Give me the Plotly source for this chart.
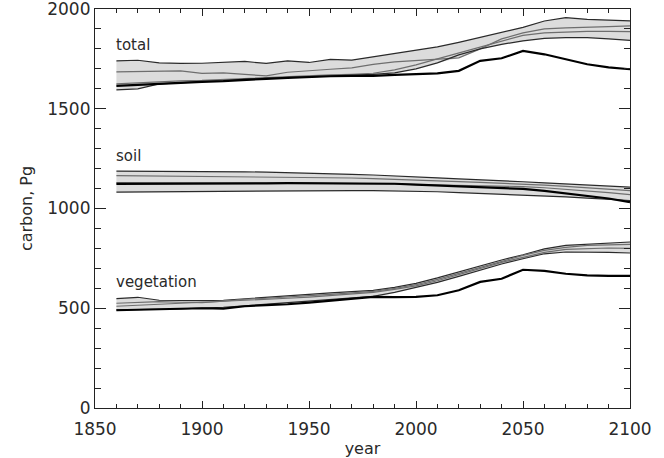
import numpy as np
import plotly.graph_objects as go

years = list(range(1860, 2101, 10))

# total carbon, ensemble members
total_m1 = [1740, 1743, 1730, 1727, 1728, 1733, 1737, 1727, 1740, 1732, 1747, 1744, 1760,
            1775, 1792, 1810, 1833, 1857, 1883, 1908, 1940, 1957, 1948, 1944, 1940]
total_m2 = [1685, 1687, 1689, 1690, 1677, 1680, 1672, 1665, 1683, 1692, 1698, 1705, 1722,
            1735, 1742, 1748, 1755, 1800, 1850, 1880, 1900, 1905, 1910, 1912, 1915]
total_m3 = [1625, 1630, 1637, 1640, 1642, 1647, 1652, 1656, 1660, 1665, 1670, 1673, 1678,
            1695, 1720, 1750, 1780, 1810, 1840, 1868, 1880, 1885, 1888, 1888, 1887]
total_m4 = [1595, 1600, 1625, 1632, 1636, 1640, 1648, 1652, 1656, 1662, 1665, 1668, 1672,
            1680, 1700, 1730, 1770, 1800, 1823, 1840, 1853, 1857, 1857, 1850, 1843]
total_ctl = [1615, 1620, 1628, 1632, 1635, 1638, 1645, 1650, 1655, 1660, 1663, 1665, 1665,
             1670, 1673, 1677, 1690, 1740, 1753, 1790, 1773, 1748, 1723, 1707, 1698]

# soil carbon
soil_m1 = [1187, 1187, 1186, 1186, 1185, 1184, 1184, 1182, 1180, 1177, 1174, 1171, 1168,
           1164, 1158, 1154, 1148, 1144, 1138, 1134, 1128, 1122, 1118, 1112, 1107]
soil_m2 = [1165, 1164, 1164, 1163, 1163, 1162, 1161, 1160, 1158, 1157, 1155, 1153, 1150,
           1147, 1143, 1139, 1135, 1131, 1127, 1122, 1117, 1111, 1105, 1098, 1090]
soil_m3 = [1130, 1130, 1129, 1129, 1129, 1128, 1128, 1128, 1127, 1127, 1126, 1126, 1125,
           1123, 1120, 1118, 1116, 1114, 1112, 1110, 1104, 1097, 1088, 1080, 1070]
soil_m4 = [1082, 1083, 1084, 1084, 1085, 1086, 1086, 1087, 1088, 1088, 1089, 1090, 1090,
           1089, 1087, 1084, 1080, 1076, 1072, 1068, 1063, 1058, 1052, 1046, 1040]
soil_ctl = [1123, 1123, 1124, 1124, 1125, 1125, 1126, 1126, 1127, 1127, 1127, 1127, 1127,
            1124, 1120, 1116, 1112, 1108, 1103, 1098, 1088, 1075, 1063, 1050, 1032]

# vegetation carbon
veg_m1 = [548, 555, 540, 538, 538, 540, 548, 556, 565, 570, 577, 582, 590,
          605, 625, 652, 683, 712, 742, 768, 798, 815, 820, 826, 832]
veg_m2 = [525, 530, 533, 530, 528, 535, 545, 550, 558, 563, 570, 576, 585,
          600, 618, 645, 675, 705, 738, 765, 790, 805, 815, 818, 820]
veg_m3 = [510, 515, 520, 525, 530, 532, 538, 545, 550, 556, 564, 572, 580,
          595, 612, 638, 668, 700, 730, 755, 780, 795, 800, 802, 800]
veg_m4 = [492, 495, 495, 497, 500, 505, 512, 520, 528, 536, 545, 552, 560,
          580, 605, 630, 660, 690, 722, 748, 773, 782, 782, 780, 777]
veg_ctl = [490, 492, 493, 495, 500, 498, 510, 516, 520, 528, 538, 548, 557,
           556, 557, 565, 590, 632, 648, 693, 687, 673, 665, 662, 662]

groups = [
    ("total", [total_m1, total_m2, total_m3, total_m4], total_ctl),
    ("soil", [soil_m1, soil_m2, soil_m3, soil_m4], soil_ctl),
    ("vegetation", [veg_m1, veg_m2, veg_m3, veg_m4], veg_ctl),
]
label_y = {"total": 1820, "soil": 1265, "vegetation": 630}

FONT = "DejaVu Sans"
TXT = "#2a2a2a"
fig = go.Figure()

for name, members, ctl in groups:
    arr = np.array(members, dtype=float)
    hi = arr.max(axis=0)
    lo = arr.min(axis=0)
    fig.add_trace(go.Scatter(x=years, y=hi, mode="lines", line=dict(width=0),
                             hoverinfo="skip", showlegend=False))
    fig.add_trace(go.Scatter(x=years, y=lo, mode="lines", line=dict(width=0),
                             fill="tonexty", fillcolor="#dcdcdc",
                             hoverinfo="skip", showlegend=False))
    for i, m in enumerate(members):
        col = "#6e6e6e" if i in (1, 2) else "#2a2a2a"
        fig.add_trace(go.Scatter(x=years, y=m, mode="lines",
                                 line=dict(color=col, width=1.2),
                                 showlegend=False, name=name))
    fig.add_trace(go.Scatter(x=years, y=ctl, mode="lines",
                             line=dict(color="#000000", width=2.2),
                             showlegend=False, name=name))
    fig.add_annotation(x=1859, y=label_y[name], text=name, showarrow=False,
                       xanchor="left", yanchor="middle",
                       font=dict(family=FONT, size=15, color=TXT))

axis_common = dict(
    showgrid=False, zeroline=False, showline=True, linecolor="#222", linewidth=1.2,
    mirror="ticks", ticks="inside", tickcolor="#222", tickwidth=1.2,
    tickfont=dict(family=FONT, size=17, color=TXT),
    ticklabeloverflow="allow", automargin=False,
)

fig.update_xaxes(range=[1850, 2100], dtick=50, tick0=1850, ticklen=7,
                 ticklabelstandoff=5,
                 minor=dict(dtick=10, ticklen=4, ticks="inside", tickcolor="#222"),
                 title=dict(text="year", font=dict(family=FONT, size=16, color=TXT),
                            standoff=6),
                 **axis_common)
fig.update_yaxes(range=[0, 2000], dtick=500, tick0=0, ticklen=11,
                 minor=dict(dtick=100, ticklen=6, ticks="inside", tickcolor="#222"),
                 title=dict(text="carbon, Pg", font=dict(family=FONT, size=16, color=TXT),
                            standoff=10),
                 **axis_common)

fig.update_layout(
    width=664, height=458,
    margin=dict(l=95, r=34, t=9, b=50),
    paper_bgcolor="white", plot_bgcolor="white",
    showlegend=False,
)

fig.write_html("out.html", config={"displayModeBar": False},
               post_script="document.body.style.margin='0px';document.body.style.overflow='hidden';")
